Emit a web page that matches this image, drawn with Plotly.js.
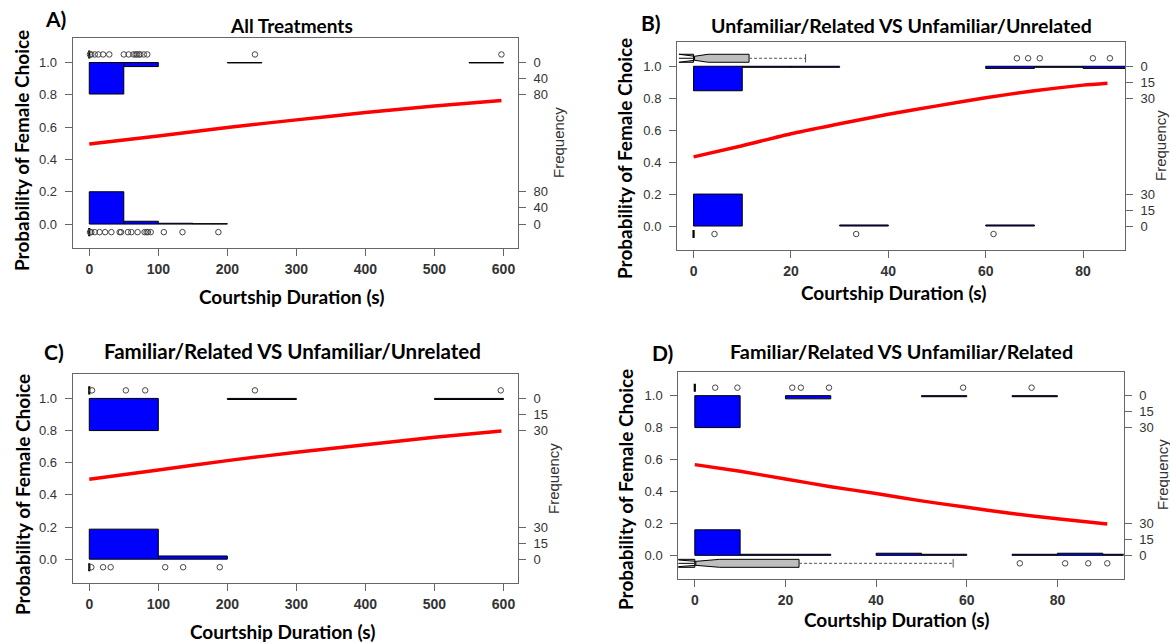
<!DOCTYPE html>
<html><head><meta charset="utf-8">
<script src="https://cdn.plot.ly/plotly-3.0.1.min.js"></script>
<style>html,body{margin:0;padding:0;background:#fff}#chart{width:1170px;height:643px}</style>
</head><body><div id="chart"></div>
<script>
// ===== Panel A: All Treatments =====
const A_xTicks = [0, 100, 200, 300, 400, 500, 600];
const A_curveX = [0, 100, 200, 300, 400, 500, 597];
const A_curveY = [0.496, 0.545, 0.598, 0.645, 0.690, 0.731, 0.765];
const A_breaks = [0, 50, 100, 150, 200, 250, 300, 350, 400, 450, 500, 550, 600];
const A_countsTop = [78, 10, 0, 0, 1, 0, 0, 0, 0, 0, 0, 1];
const A_countsBottom = [80, 7, 2, 1, 0, 0, 0, 0, 0, 0, 0, 0];
const A_tope = 80;
const A_freqLabels = [0, 40, 80];
const A_pointsTop = [1, 3, 8, 13, 20, 29, 50, 57, 64, 67, 69, 72, 74, 79, 84, 240, 597];
const A_pointsBottom = [1, 3, 8, 15, 23, 32, 44, 46, 56, 61, 70, 80, 83, 85, 89, 108, 135, 187];
// boxplot stats: [q1, median, q3, lower whisker, upper whisker, notch half-width]
const A_boxTop = [0, 0, 0, 0, 0, 0];
const A_boxBottom = [0, 0, 0, 0, 0, 0];

// ===== Panel B: Unfamiliar/Related VS Unfamiliar/Unrelated =====
const B_xTicks = [0, 20, 40, 60, 80];
const B_curveX = [0, 10, 20, 30, 40, 50, 60, 70, 80, 85];
const B_curveY = [0.433, 0.503, 0.578, 0.640, 0.700, 0.752, 0.803, 0.847, 0.882, 0.894];
const B_breaks = [0, 10, 20, 30, 40, 50, 60, 70, 80, 90];
const B_countsTop = [23, 1, 1, 0, 0, 0, 2, 1, 2];
const B_countsBottom = [30, 0, 0, 1, 0, 0, 1, 0, 0];
const B_tope = 30;
const B_freqLabels = [0, 15, 30];
const B_pointsTop = [66.4, 68.7, 71.1, 82, 85.5];
const B_pointsBottom = [4.3, 33.4, 61.6];
const B_boxTop = [0, 0, 11.4, 0, 23, 3];
const B_boxBottom = [0, 0, 0, 0, 0, 0];

// ===== Panel C: Familiar/Related VS Unfamiliar/Unrelated =====
const C_xTicks = [0, 100, 200, 300, 400, 500, 600];
const C_curveX = [0, 100, 200, 300, 400, 500, 597];
const C_curveY = [0.497, 0.555, 0.613, 0.665, 0.712, 0.758, 0.797];
const C_breaks = [0, 100, 200, 300, 400, 500, 600];
const C_countsTop = [30, 0, 1, 0, 0, 1];
const C_countsBottom = [28, 3, 0, 0, 0, 0];
const C_tope = 30;
const C_freqLabels = [0, 15, 30];
const C_pointsTop = [4, 53, 81, 240, 596];
const C_pointsBottom = [3, 20, 31, 110, 136, 189];
const C_boxTop = [0, 0, 0, 0, 0, 0];
const C_boxBottom = [0, 0, 0, 0, 0, 0];

// ===== Panel D: Familiar/Related VS Unfamiliar/Related =====
const D_xTicks = [0, 20, 40, 60, 80];
const D_curveX = [0, 10, 20, 30, 40, 50, 60, 70, 80, 91];
const D_curveY = [0.568, 0.526, 0.478, 0.430, 0.387, 0.341, 0.301, 0.262, 0.229, 0.196];
const D_breaks = [0, 10, 20, 30, 40, 50, 60, 70, 80, 90, 100];
const D_countsTop = [30, 0, 3, 0, 0, 1, 0, 1, 0, 0];
const D_countsBottom = [24, 1, 1, 0, 2, 1, 0, 1, 2, 1];
const D_tope = 30;
const D_freqLabels = [0, 15, 30];
const D_pointsTop = [4.5, 9.4, 21.5, 23.4, 29.6, 59.2, 74.3];
const D_pointsBottom = [71.7, 81.7, 86.8, 91];
const D_boxTop = [0, 0, 0, 0, 0, 0];
const D_boxBottom = [0, 0, 23, 0, 57, 5.5];

// ===== Texts =====
const panelLetters = ['A)', 'B)', 'C)', 'D)'];
const panelTitles = ['All Treatments', 'Unfamiliar/Related VS Unfamiliar/Unrelated',
  'Familiar/Related VS Unfamiliar/Unrelated', 'Familiar/Related VS Unfamiliar/Related'];
const xTitle = 'Courtship Duration (s)';
const yTitle = 'Probability of Female Choice';
const y2Title = 'Frequency';

// ===== Layout geometry (pixels in the 1170x643 page) =====
const W = 1170, H = 643;
const ROW_TOP = 1.05, ROW_BOTTOM = -0.05, HIST_SCALE = 5;
const panels = [
  {breaks:A_breaks, top:A_countsTop, bot:A_countsBottom, tope:A_tope, freq:A_freqLabels, cx:A_curveX, cy:A_curveY,
   pTop:A_pointsTop, pBot:A_pointsBottom, bTop:A_boxTop, bBot:A_boxBottom, xt:A_xTicks,
   box:[72.7, 518, 38.3, 248.3], xr:[-24, 621], tsize:19,
   letter:[55, 18], title:[291, 25], xtit:[291, 297], ytit:[21, 151], ftit:[558, 143]},
  {breaks:B_breaks, top:B_countsTop, bot:B_countsBottom, tope:B_tope, freq:B_freqLabels, cx:B_curveX, cy:B_curveY,
   pTop:B_pointsTop, pBot:B_pointsBottom, bTop:B_boxTop, bBot:B_boxBottom, xt:B_xTicks,
   box:[677, 1125, 42.3, 250], xr:[-3.4, 88.6], tsize:19.5,
   letter:[651, 22], title:[901, 26], xtit:[894, 292], ytit:[625, 159], ftit:[1160, 146]},
  {breaks:C_breaks, top:C_countsTop, bot:C_countsBottom, tope:C_tope, freq:C_freqLabels, cx:C_curveX, cy:C_curveY,
   pTop:C_pointsTop, pBot:C_pointsBottom, bTop:C_boxTop, bBot:C_boxBottom, xt:C_xTicks,
   box:[72.7, 518, 374.3, 583.3], xr:[-24, 621], tsize:20.5,
   letter:[54, 351], title:[292, 351], xtit:[282, 631], ytit:[22, 495], ftit:[553, 479]},
  {breaks:D_breaks, top:D_countsTop, bot:D_countsBottom, tope:D_tope, freq:D_freqLabels, cx:D_curveX, cy:D_curveY,
   pTop:D_pointsTop, pBot:D_pointsBottom, bTop:D_boxTop, bBot:D_boxBottom, xt:D_xTicks,
   box:[678.3, 1123.6, 371.7, 579.3], xr:[-3.64, 94.6], tsize:19.8,
   letter:[662, 352], title:[901, 351], xtit:[896, 619], ytit:[626, 490], ftit:[1162, 475]}
];

const TICK_FONT = {family:'Liberation Sans, Arial, sans-serif', size:13, color:'#333'};
const XTICK_FONT = {family:'Liberation Sans, Arial, sans-serif', size:14, color:'#333', weight:'bold'};
const TITLE_FONT = 'Lato, Liberation Sans, sans-serif';

const traces = [];
const layout = {width:W, height:H, margin:{l:0, r:0, t:0, b:0}, autosize:false,
  paper_bgcolor:'#fff', plot_bgcolor:'#fff', showlegend:false, barmode:'overlay', boxmode:'overlay',
  annotations:[]};

function ann(text, p, size, opts) {
  layout.annotations.push(Object.assign({text:text, xref:'paper', yref:'paper', x:p[0]/W, y:1 - p[1]/H,
    xanchor:'center', yanchor:'middle', showarrow:false,
    font:{family:TITLE_FONT, size:size, color:'#000', weight:'bold'}}, opts || {}));
}

function boxTrace(s, pos, xa, ya) {
  const collapsed = s[2] === s[0];
  const t = {type:'box', orientation:'h', y:[pos], q1:[s[0]], median:[s[1]], q3:[s[2]],
    lowerfence:[s[0]], upperfence:[s[2]], width:0.05, fillcolor:'#bebebe',
    line:{color:'#000', width:collapsed ? 2.2 : 1}, boxpoints:false, whiskerwidth:0,
    xaxis:xa, yaxis:ya, hoverinfo:'skip'};
  if (s[5] > 0) { t.notched = true; t.notchspan = [s[5]]; t.notchwidth = 0.55; }
  traces.push(t);
  if (s[4] > s[2]) {
    traces.push({type:'scatter', mode:'lines', x:[s[2], s[4]], y:[pos, pos], xaxis:xa, yaxis:ya,
      line:{color:'#555', width:1, dash:'3px,2px'}, hoverinfo:'skip'});
    traces.push({type:'scatter', mode:'markers', x:[s[4]], y:[pos], xaxis:xa, yaxis:ya,
      marker:{symbol:'line-ns-open', size:6, color:'#555', line:{color:'#555', width:1}}, hoverinfo:'skip'});
  }
}

panels.forEach((p, i) => {
  const n = i + 1;
  const xa = 'x' + (n === 1 ? '' : n), ya = 'y' + (n === 1 ? '' : n);
  const yaR = 'y' + (n + 4);
  const k = p.tope * HIST_SCALE;

  // histograms (top: hanging from 1, bottom: rising from 0)
  [[p.top, 1, -1], [p.bot, 0, 1]].forEach(([counts, base, dir]) => {
    const xs = [], ys = [], ws = [];
    counts.forEach((c, j) => {
      if (c > 0) {
        xs.push((p.breaks[j] + p.breaks[j + 1]) / 2);
        ws.push(p.breaks[j + 1] - p.breaks[j]);
        ys.push(dir * c / k);
      }
    });
    traces.push({type:'bar', x:xs, y:ys, base:base, width:ws, xaxis:xa, yaxis:ya,
      marker:{color:'#0000ff', line:{color:'#000', width:1}}, hoverinfo:'skip'});
  });

  // fitted logistic curve
  traces.push({type:'scatter', mode:'lines', x:p.cx, y:p.cy, xaxis:xa, yaxis:ya,
    line:{color:'#ff0000', width:3.5, shape:'spline', smoothing:0.6}, hoverinfo:'skip'});

  // boxplots
  boxTrace(p.bTop, ROW_TOP, xa, ya);
  boxTrace(p.bBot, ROW_BOTTOM, xa, ya);

  // outlier points
  [[p.pTop, ROW_TOP], [p.pBot, ROW_BOTTOM]].forEach(([pts, pos]) => {
    traces.push({type:'scatter', mode:'markers', x:pts, y:pts.map(() => pos), xaxis:xa, yaxis:ya,
      marker:{symbol:'circle-open', size:5.5, color:'#444', line:{width:1, color:'#444'}}, hoverinfo:'skip'});
  });

  const dx = [p.box[0] / W, p.box[1] / W];
  const dy = [1 - p.box[3] / H, 1 - p.box[2] / H];
  layout['xaxis' + (n === 1 ? '' : n)] = {domain:dx, range:p.xr, type:'linear', anchor:ya,
    tickvals:p.xt, ticks:'outside', ticklen:7, tickcolor:'#666', showline:true, mirror:true,
    linecolor:'#666', linewidth:1, showgrid:false, zeroline:false, tickfont:XTICK_FONT, ticklabelstandoff:1};
  layout['yaxis' + (n === 1 ? '' : n)] = {domain:dy, range:[-0.15, 1.15], type:'linear', anchor:xa,
    tickvals:[0, 0.2, 0.4, 0.6, 0.8, 1.0], tickformat:'.1f', ticks:'outside', ticklen:7, tickcolor:'#666',
    showline:true, mirror:true, linecolor:'#666', linewidth:1, showgrid:false, zeroline:false,
    tickfont:TICK_FONT, ticklabelstandoff:5};
  const fv = [], ft = [];
  p.freq.forEach(l => { fv.push(l / k); ft.push(String(l)); });
  p.freq.forEach(l => { fv.push(1 - l / k); ft.push(String(l)); });
  layout['yaxis' + (n + 4)] = {overlaying:ya, anchor:xa, side:'right', range:[-0.15, 1.15], type:'linear',
    tickvals:fv, ticktext:ft, ticks:'outside', ticklen:7, tickcolor:'#666', showline:false,
    showgrid:false, zeroline:false, tickfont:TICK_FONT, ticklabelstandoff:5};
  traces.push({type:'scatter', mode:'markers', x:[], y:[], xaxis:xa, yaxis:yaR, hoverinfo:'skip'});

  ann(panelLetters[i], p.letter, 21);
  ann(panelTitles[i], p.title, p.tsize);
  ann(xTitle, p.xtit, 19);
  ann(yTitle, p.ytit, 19, {textangle:-90});
  ann(y2Title, p.ftit, 15, {textangle:-90, font:{family:'Liberation Sans, Arial, sans-serif', size:15, color:'#333'}});
});

Plotly.newPlot('chart', traces, layout, {staticPlot:true, displayModeBar:false});
</script>
</body></html>
